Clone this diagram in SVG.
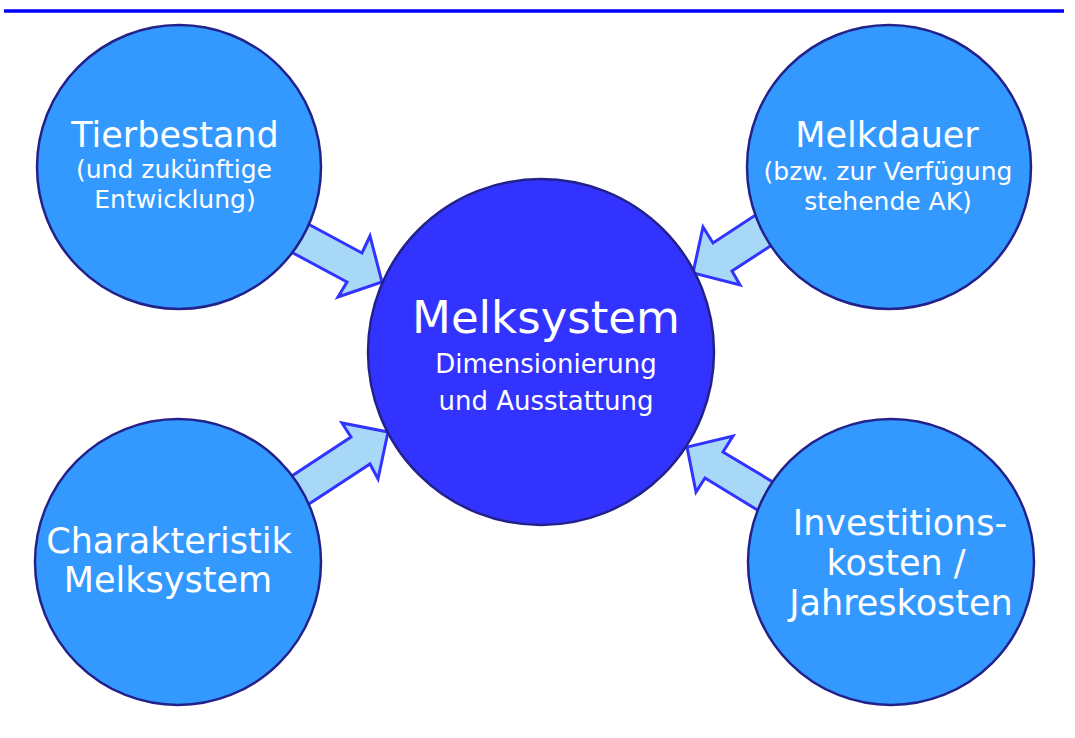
<svg xmlns="http://www.w3.org/2000/svg" width="1075" height="738" viewBox="0 0 1075 738">
<style>
.outer{fill:#3399ff;stroke:#22228a;stroke-width:2.5}
.center{fill:#3333ff;stroke:#22228a;stroke-width:2.5}
.arrow{fill:#a8d8f8;stroke:#3333ff;stroke-width:3;stroke-linejoin:miter}
text{font-family:"Comic Sans MS","DejaVu Sans",sans-serif;fill:#ffffff;text-anchor:middle}
.big{font-size:35px}
.small{font-size:25px}
.title{font-size:45px}
.sub{font-size:26px}
</style>
<rect width="1075" height="738" fill="#ffffff"/>
<line x1="4" y1="11" x2="1064" y2="11" stroke="#0000ff" stroke-width="3.5"/>
<g id="connectors">
<polygon class="arrow" points="284,211 362,253 370,236 382,282 338,297 347,282 267,239"/>
<polygon class="arrow" points="777,201 713,243 703,227 693,273 740,285 732,271 792,232"/>
<polygon class="arrow" points="286,519 370,464 378,479 388,432 342,423 351,437 269,491"/>
<polygon class="arrow" points="798,497 723,452 733,436 687,447 696,492 705,478 782,525"/>
</g>
<g id="node-center">
<circle class="center" cx="541" cy="352" r="173"/>
<text class="title" x="546" y="333">Melksystem</text>
<text class="sub" x="546" y="373">Dimensionierung</text>
<text class="sub" x="546" y="410">und Ausstattung</text>
</g>
<g id="node-tierbestand">
<circle class="outer" cx="179" cy="167" r="142"/>
<text class="big" x="175" y="147">Tierbestand</text>
<text class="small" x="174" y="178">(und zukünftige</text>
<text class="small" x="175" y="208">Entwicklung)</text>
</g>
<g id="node-melkdauer">
<circle class="outer" cx="889" cy="167" r="142"/>
<text class="big" x="887" y="147">Melkdauer</text>
<text class="small" x="888" y="180">(bzw. zur Verfügung</text>
<text class="small" x="888" y="210">stehende AK)</text>
</g>
<g id="node-charakteristik">
<circle class="outer" cx="178" cy="562" r="143"/>
<text class="big" x="169" y="553">Charakteristik</text>
<text class="big" x="168" y="592">Melksystem</text>
</g>
<g id="node-kosten">
<circle class="outer" cx="891" cy="562" r="143"/>
<text class="big" x="900" y="535">Investitions-</text>
<text class="big" x="896" y="575">kosten /</text>
<text class="big" x="901" y="615">Jahreskosten</text>
</g>
</svg>
